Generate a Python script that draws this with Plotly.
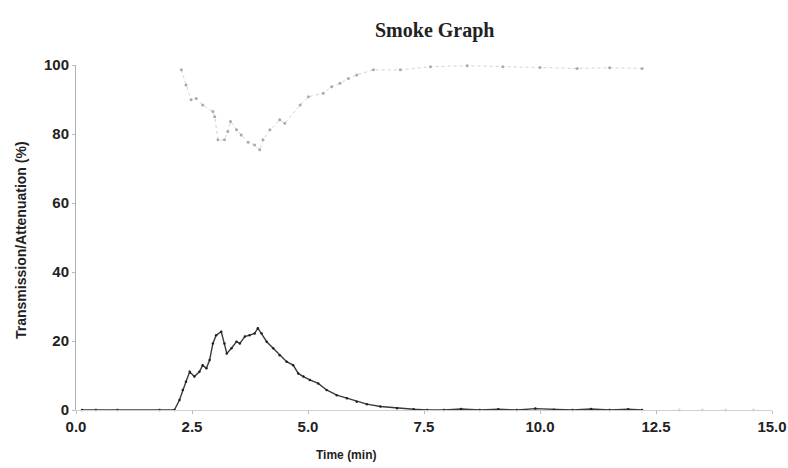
import plotly.graph_objects as go

# Attenuation (dark trace)
atten_time = [0.13, 0.43, 0.89, 1.8, 2.12, 2.23, 2.30, 2.37, 2.45, 2.55, 2.66, 2.73, 2.81, 2.88,
              2.95, 3.02, 3.13, 3.20, 3.25, 3.35, 3.46, 3.53, 3.64, 3.74, 3.85, 3.92, 4.00, 4.11,
              4.25, 4.39, 4.54, 4.68, 4.79, 4.90, 5.04, 5.22, 5.40, 5.62, 5.84, 6.05, 6.27, 6.56,
              6.92, 7.28, 7.57, 7.93, 8.3, 8.7, 9.1, 9.5, 9.9, 10.3, 10.7, 11.1, 11.5, 11.9, 12.2]
atten_vals = [0, 0, 0, 0, 0, 2.9, 5.8, 8.2, 11.1, 9.7, 11.1, 13.0, 12.1, 14.5,
              19.3, 21.7, 22.7, 19.3, 16.4, 17.9, 19.8, 19.3, 21.3, 21.7, 22.2, 23.7, 22.2, 19.8,
              17.9, 15.9, 14.0, 13.0, 10.6, 9.7, 8.7, 7.7, 5.8, 4.3, 3.4, 2.4, 1.7, 1.0,
              0.5, 0.2, 0, 0, 0.3, 0, 0.2, 0, 0.4, 0.1, 0, 0.3, 0, 0.2, 0]

# Transmission (faint trace)
trans_time = [2.27, 2.37, 2.48, 2.59, 2.73, 2.95, 2.99, 3.06, 3.20, 3.27, 3.33, 3.46, 3.56, 3.71,
              3.85, 3.96, 4.03, 4.18, 4.39, 4.50, 4.83, 5.01, 5.33, 5.51, 5.69, 5.87, 6.05, 6.41,
              6.99, 7.64, 8.43, 9.2, 10.0, 10.8, 11.5, 12.2]
trans_vals = [98.6, 94.2, 89.9, 90.3, 88.4, 86.5, 85.0, 78.3, 78.3, 80.7, 83.6, 81.2, 79.7, 77.6,
              76.8, 75.4, 78.3, 81.2, 84.1, 83.1, 88.4, 90.8, 91.8, 93.7, 94.7, 96.1, 97.1, 98.6,
              98.6, 99.5, 99.8, 99.5, 99.3, 99.0, 99.2, 99.0]

# faint tail after the end of the test
tail_time = [13.0, 13.5, 14.0, 14.6]
tail_vals = [0, 0, 0, 0]

x_ticks = [0, 2.5, 5, 7.5, 10, 12.5, 15]
x_tick_labels = ["0.0", "2.5", "5.0", "7.5", "10.0", "12.5", "15.0"]
y_ticks = [0, 20, 40, 60, 80, 100]

W, H = 788, 468
L, R, T, B = 76, 16, 65, 58
pw, ph = W - L - R, H - T - B

fig = go.Figure()
fig.add_trace(go.Scatter(x=trans_time, y=trans_vals, mode="lines+markers",
                         line=dict(color="#d2d2d2", width=1, dash="dot"),
                         marker=dict(color="#aaaaaa", size=3), cliponaxis=False,
                         showlegend=False))
fig.add_trace(go.Scatter(x=atten_time, y=atten_vals, mode="lines+markers",
                         line=dict(color="#3a3a3a", width=1.4),
                         marker=dict(color="#222222", size=2.5), cliponaxis=False,
                         showlegend=False))
fig.add_trace(go.Scatter(x=tail_time, y=tail_vals, mode="markers",
                         marker=dict(color="#d8d8d8", size=3), cliponaxis=False,
                         showlegend=False))

tick_font = dict(family="Liberation Sans", size=15, color="#222222", weight="bold")
fig.update_layout(
    width=W, height=H,
    margin=dict(l=L, r=R, t=T, b=B, autoexpand=False),
    paper_bgcolor="white", plot_bgcolor="white",
    xaxis=dict(range=[0, 15], tickvals=x_ticks, ticktext=x_tick_labels, automargin=False,
               showgrid=False, zeroline=False, showline=True, linecolor="#d0d0d0",
               linewidth=1, ticks="outside", ticklen=3, tickcolor="#bbbbbb",
               tickfont=tick_font),
    yaxis=dict(range=[0, 100], tickvals=y_ticks, showgrid=False, zeroline=False,
               automargin=False,
               showline=True, linecolor="#b0b0b0", linewidth=1, ticks="outside",
               ticklen=3, tickcolor="#bbbbbb", tickfont=tick_font),
)
fig.add_annotation(text="<b>Smoke Graph</b>", xref="paper", yref="paper",
                   x=(434 - L) / pw, y=1 + (T - 30) / ph, xanchor="center", yanchor="middle",
                   showarrow=False,
                   font=dict(family="Liberation Serif", size=20, color="#222222"))
fig.add_annotation(text="<b>Time (min)</b>", xref="paper", yref="paper",
                   x=(346 - L) / pw, y=-(455 - (H - B)) / ph, xanchor="center", yanchor="middle",
                   showarrow=False,
                   font=dict(family="Liberation Sans", size=12, color="#222222"))
fig.add_annotation(text="<b>Transmission/Attenuation (%)</b>", xref="paper", yref="paper",
                   x=-(L - 21) / pw, y=((H - B) - 240) / ph, xanchor="center", yanchor="middle",
                   textangle=-90, showarrow=False,
                   font=dict(family="Liberation Sans", size=14, color="#222222"))

fig.write_html("out.html", config={"displayModeBar": False},
               post_script="document.body.style.margin='0';document.body.style.padding='0';")
